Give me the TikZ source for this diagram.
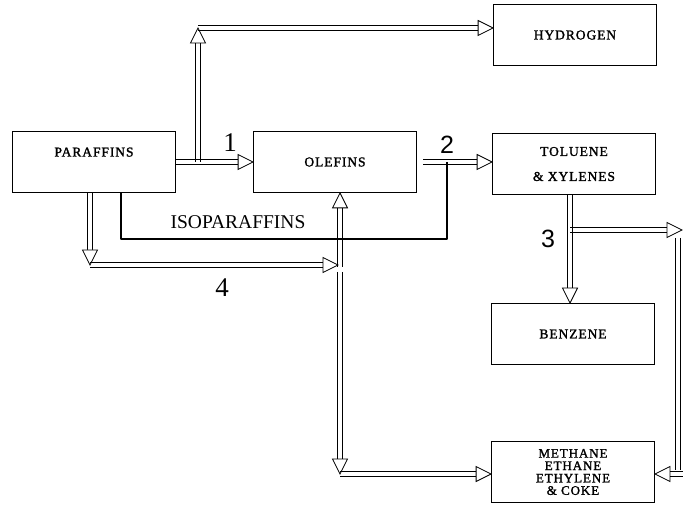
\documentclass[tikz,border=0pt]{standalone}
\usepackage{fontspec}
\setmainfont{Liberation Serif}
\setsansfont{Liberation Sans}
\newfontfamily\boxfont{Liberation Serif}[LetterSpace=7, FakeBold=1.6]
\usetikzlibrary{calc}
\newcommand\pipeto[2]{%
  \coordinate (pb) at ($(#2)!15pt!(#1)$);
  \draw[pipeline] ($(#1)!2.2pt!90:(#2)$) -- ($(pb)!2.2pt!-90:(#1)$);
  \draw[pipeline] ($(#1)!2.2pt!-90:(#2)$) -- ($(pb)!2.2pt!90:(#1)$);
  \draw[pipehead] (#2) -- ($(pb)!7.5pt!90:(#2)$) -- ($(pb)!7.5pt!-90:(#2)$) -- cycle;
}
\newcommand\pipebare[2]{%
  \draw[pipeline] ($(#1)!2.2pt!90:(#2)$) -- ($(#2)!2.2pt!-90:(#1)$);
  \draw[pipeline] ($(#1)!2.2pt!-90:(#2)$) -- ($(#2)!2.2pt!90:(#1)$);
}
\begin{document}
\begin{tikzpicture}[x=1pt,y=1pt,
  box/.style={draw, line width=0.8pt, minimum width=163pt, minimum height=61pt,
    inner sep=0pt, align=center, font={\boxfont\fontsize{13.5}{25}\selectfont}},
  pipeline/.style={draw, line width=0.8pt},
  pipehead/.style={draw, fill=white, line width=0.8pt, line join=miter},
  iso/.style={draw, line width=1.8pt, line join=round},
  num/.style={font=\fontsize{27}{27}\selectfont},
  snum/.style={font=\sffamily\fontsize{25}{25}\selectfont},
]
\useasboundingbox (0,0) rectangle (683,-505);

% boxes
\node[box, text height=9pt, text depth=20pt] (para) at (94,-162) {PARAFFINS};
\node[box] (ole) at (335,-162) {OLEFINS};
\node[box] (hyd) at (575,-35) {HYDROGEN};
\node[box] (tol) at (574,-164) {TOLUENE\\\& XYLENES};
\node[box] (ben) at (573,-334) {BENZENE};
\node[box, font={\boxfont\fontsize{13}{12.4}\selectfont}] (met) at (573,-472) {METHANE\\ETHANE\\ETHYLENE\\\& COKE};

% coordinates
\coordinate (j1) at (198,-162);
\coordinate (h1) at (198,-28);
\coordinate (s2) at (423,-162);
\coordinate (i1) at (447,-162);
\coordinate (i2) at (447,-239);
\coordinate (i3) at (121,-239);
\coordinate (d4) at (90,-265);
\coordinate (e4) at (338,-265);
\coordinate (v1) at (340,-267);
\coordinate (v2) at (340,-272);
\coordinate (v3) at (340,-474);
\coordinate (t3) at (570,-230);
\coordinate (r3) at (682,-230);
\coordinate (r4) at (678,-238);
\coordinate (r5) at (678,-470);
\coordinate (r6) at (683,-474);

% connector end points on the boxes
\coordinate (pe) at (para.east |- j1);
\coordinate (ow) at (ole.west |- j1);
\coordinate (hw) at (h1 -| hyd.west);
\coordinate (tw) at (s2 -| tol.west);
\coordinate (ps) at (i3 |- para.south);
\coordinate (ps4) at (d4 |- para.south);
\coordinate (os) at (v1 |- ole.south);
\coordinate (mw) at (v3 -| met.west);
\coordinate (ts) at (t3 |- tol.south);
\coordinate (bn) at (t3 |- ben.north);
\coordinate (me) at (r6 -| met.east);

% arrow 1 and hydrogen branch
\pipeto{pe}{ow}
\pipeto{j1}{h1}
\pipeto{h1}{hw}

% arrow 2
\pipeto{s2}{tw}

% isoparaffins recycle
\draw[iso] (i1) -- (i2) -- (i3) -- (ps);

% arrow 4
\pipeto{ps4}{d4}
\pipeto{d4}{e4}
\pipeto{v1}{os}
\pipeto{v2}{v3}
\pipeto{v3}{mw}

% arrow 3
\pipeto{ts}{bn}
\pipebare{r4}{r5}
\pipeto{t3}{r3}
\pipeto{r6}{me}

% labels
\node[num] (n1) at (230,-143) {1};
\node[snum] (n2) at (447,-145) {2};
\node[snum] (n3) at (548,-239) {3};
\node[num] (n4) at (222,-288) {4};
\node[font=\fontsize{19.5}{19.5}\selectfont] (isol) at (238,-222) {ISOPARAFFINS};
\end{tikzpicture}
\end{document}
